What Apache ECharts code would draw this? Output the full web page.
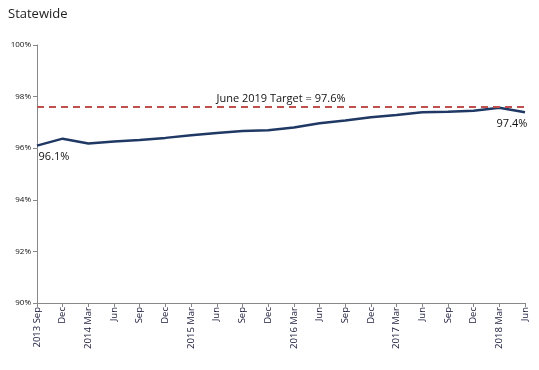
<!DOCTYPE html>
<html><head><meta charset="utf-8">
<script src="https://cdn.jsdelivr.net/npm/echarts@6/dist/echarts.min.js"></script>
<style>html,body{margin:0;padding:0;background:#fff}#c{width:539px;height:370px}</style>
</head><body><div id="c"></div>
<script>
const categories = ["2013 Sep","Dec","2014 Mar","Jun","Sep","Dec","2015 Mar","Jun","Sep","Dec","2016 Mar","Jun","Sep","Dec","2017 Mar","Jun","Sep","Dec","2018 Mar","Jun"];
const values = [96.1,96.37,96.18,96.26,96.32,96.4,96.5,96.59,96.67,96.7,96.8,96.97,97.07,97.2,97.29,97.39,97.41,97.45,97.57,97.39];
const target = 97.6;
const targetLabel = "June 2019 Target = 97.6%";
const yTicks = {min: 90, max: 100, interval: 2};

const font = "'Open Sans', 'Liberation Sans', sans-serif";
const last = values.length - 1;
const seriesData = values.map((v, i) => {
  if (i === 0) return {value: v, label: {show: true, position: 'bottom', offset: [17, 1], formatter: v.toFixed(1) + '%'}};
  if (i === last) return {value: v, label: {show: true, position: 'bottom', offset: [-13, 1], formatter: v.toFixed(1) + '%'}};
  return v;
});

const chart = echarts.init(document.getElementById('c'), null, {renderer: 'canvas'});
chart.setOption({
  animation: false,
  backgroundColor: '#fff',
  title: {text: 'Statewide', left: 3, top: 3, textStyle: {fontFamily: font, fontSize: 13, fontWeight: 'normal', color: '#222'}},
  grid: {left: 37, right: 14, top: 45, bottom: 67, containLabel: false},
  xAxis: {
    type: 'category', data: categories, boundaryGap: false,
    axisLine: {lineStyle: {color: '#888', width: 1}},
    axisTick: {show: true, alignWithLabel: true, interval: 0, length: 4, lineStyle: {color: '#888'}},
    axisLabel: {rotate: 90, interval: 0, fontFamily: font, fontSize: 9.5, color: '#1a1a3a', margin: 4}
  },
  yAxis: {
    type: 'value', min: yTicks.min, max: yTicks.max, interval: yTicks.interval,
    splitLine: {show: false},
    axisLine: {show: true, lineStyle: {color: '#888', width: 1}},
    axisTick: {show: true, length: 4, lineStyle: {color: '#888'}},
    axisLabel: {formatter: '{value}%', fontFamily: font, fontSize: 8, color: '#111', margin: 6}
  },
  series: [{
    type: 'line', data: seriesData, symbol: 'circle', symbolSize: 0, showSymbol: true, smooth: false,
    lineStyle: {color: '#1F3864', width: 2.5},
    itemStyle: {color: '#1F3864'},
    label: {fontFamily: font, fontSize: 11, color: '#111'},
    markLine: {
      silent: true, symbol: 'none',
      lineStyle: {color: '#C0504D', type: [7, 5], width: 2},
      label: {show: true, position: 'middle', formatter: targetLabel, fontFamily: font, fontSize: 11, color: '#111', distance: 3},
      data: [{yAxis: target}]
    }
  }]
});
</script></body></html>
